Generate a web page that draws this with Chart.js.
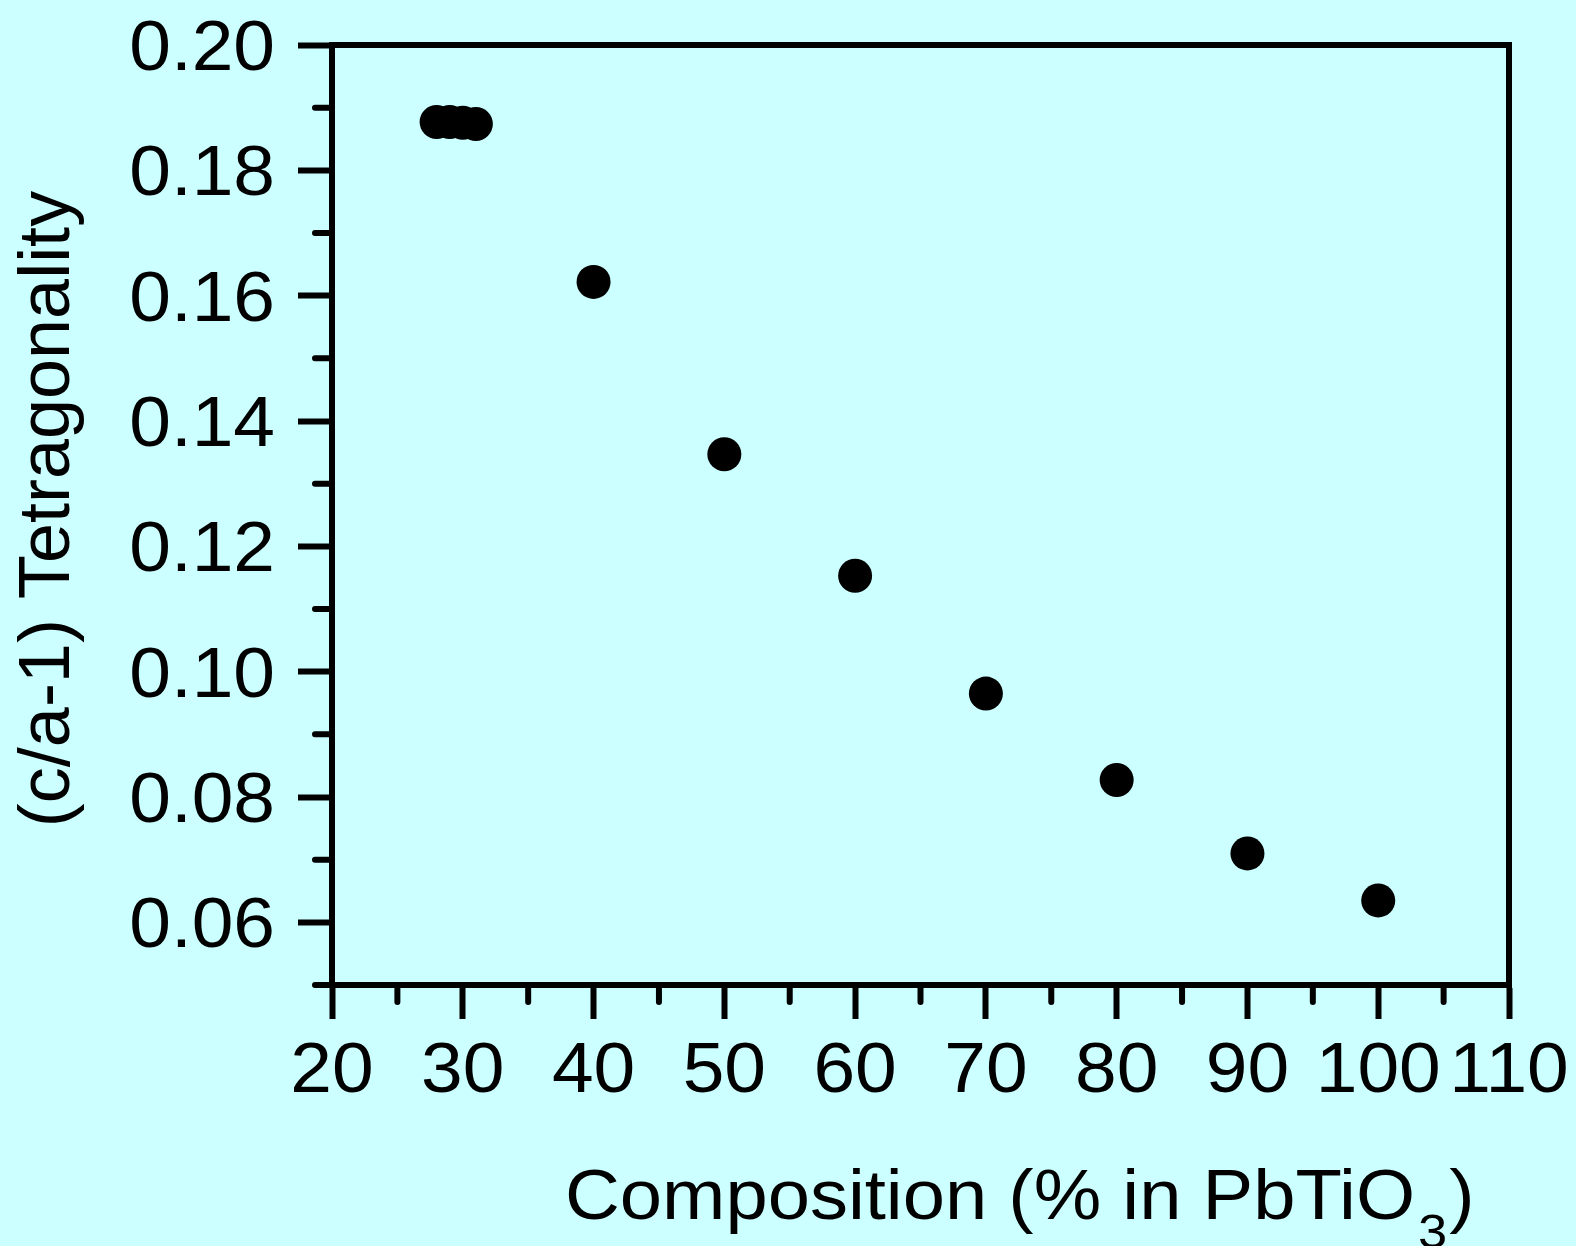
<!DOCTYPE html>
<html>
<head>
<meta charset="utf-8">
<style>
  html, body { margin: 0; padding: 0; background: #ccffff; }
  #wrap { width: 1576px; height: 1246px; position: relative; }
  canvas { display: block; }
</style>
<script src="https://cdn.jsdelivr.net/npm/chart.js@4/dist/chart.umd.min.js"></script>
</head>
<body>
<div id="wrap"><canvas id="c" width="1576" height="1246"></canvas></div>
<script>
// Composition (% PbTiO3) and measured tetragonality (c/a - 1)
const composition = [28, 29, 30, 31, 40, 50, 60, 70, 80, 90, 100];
const tetragonality = [0.1877, 0.1877, 0.1876, 0.1874, 0.1622, 0.1347, 0.1153, 0.0965, 0.0827, 0.0710, 0.0635];

// Axis ranges and tick values
const xRange = [20, 110];
const yRange = [0.05, 0.20];
const xMajorTicks = [20, 30, 40, 50, 60, 70, 80, 90, 100, 110];
const xMinorTicks = [25, 35, 45, 55, 65, 75, 85, 95, 105];
const yMajorTicks = [0.06, 0.08, 0.10, 0.12, 0.14, 0.16, 0.18, 0.20];
const yMinorTicks = [0.05, 0.07, 0.09, 0.11, 0.13, 0.15, 0.17, 0.19];
const xTickLabels = ['20', '30', '40', '50', '60', '70', '80', '90', '100', '110'];
const yTickLabels = ['0.06', '0.08', '0.10', '0.12', '0.14', '0.16', '0.18', '0.20'];

const xTitleMain = 'Composition (% in PbTiO';
const xTitleSub = '3';
const xTitleEnd = ')';
const yTitle = '(c/a-1) Tetragonality';

const FONT = '"Liberation Sans", Arial, sans-serif';
const LINE = 6;
const MAJOR = 34;
const MINOR = 17;
const STRETCH = 1.07;   // horizontal widening of the lettering

function stretchedText(ctx, text, x, y, align) {
  const w = ctx.measureText(text).width * STRETCH;
  let left = x;
  if (align === 'right') left = x - w;
  else if (align === 'center') left = x - w / 2;
  ctx.save();
  ctx.translate(left, y);
  ctx.scale(STRETCH, 1);
  ctx.textAlign = 'left';
  ctx.fillText(text, 0, 0);
  ctx.restore();
  return w;
}

// Frame, minor ticks, tick labels and axis titles
const framePlugin = {
  id: 'frame',
  beforeDraw(chart) {
    const ctx = chart.ctx;
    ctx.save();
    ctx.fillStyle = '#ccffff';
    ctx.fillRect(0, 0, chart.width, chart.height);
    ctx.restore();
  },
  afterDraw(chart) {
    const { ctx, chartArea: a, scales } = chart;
    ctx.save();
    ctx.strokeStyle = '#000';
    ctx.lineWidth = LINE;
    ctx.lineCap = 'round';
    // minor ticks
    ctx.beginPath();
    xMinorTicks.forEach(v => {
      const px = scales.x.getPixelForValue(v);
      ctx.moveTo(px, a.bottom);
      ctx.lineTo(px, a.bottom + MINOR);
    });
    yMinorTicks.forEach(v => {
      const py = scales.y.getPixelForValue(v);
      ctx.moveTo(a.left, py);
      ctx.lineTo(a.left - MINOR, py);
    });
    ctx.stroke();
    // top and right frame edges
    ctx.lineCap = 'square';
    ctx.beginPath();
    ctx.moveTo(a.left, a.top);
    ctx.lineTo(a.right, a.top);
    ctx.lineTo(a.right, a.bottom);
    ctx.stroke();

    ctx.fillStyle = '#000';
    ctx.textBaseline = 'alphabetic';

    // tick labels
    ctx.font = '70px ' + FONT;
    yMajorTicks.forEach((v, i) => {
      const py = scales.y.getPixelForValue(v);
      stretchedText(ctx, yTickLabels[i], a.left - MAJOR - 23, py + 25, 'right');
    });
    xMajorTicks.forEach((v, i) => {
      const px = scales.x.getPixelForValue(v);
      stretchedText(ctx, xTickLabels[i], px, 1092, 'center');
    });

    // x title with subscript
    let x = 565;
    const base = 1219;
    ctx.font = '71px ' + FONT;
    x += stretchedText(ctx, xTitleMain, x, base, 'left');
    ctx.font = '49px ' + FONT;
    x += stretchedText(ctx, xTitleSub, x + 3, base + 29, 'left') + 5;
    ctx.font = '71px ' + FONT;
    stretchedText(ctx, xTitleEnd, x, base, 'left');

    // y title
    ctx.translate(49, 509);
    ctx.rotate(-Math.PI / 2);
    ctx.textAlign = 'center';
    ctx.textBaseline = 'middle';
    ctx.font = '72px ' + FONT;
    ctx.fillText(yTitle, 0, 0);
    ctx.restore();
  }
};

new Chart(document.getElementById('c'), {
  type: 'scatter',
  data: {
    datasets: [{
      data: composition.map((c, i) => ({ x: c, y: tetragonality[i] })),
      backgroundColor: '#000',
      borderWidth: 0,
      pointRadius: 17,
      pointHoverRadius: 17
    }]
  },
  options: {
    responsive: false,
    animation: false,
    events: [],
    layout: { padding: { left: 0, top: 45, right: 67, bottom: 0 } },
    plugins: { legend: { display: false }, tooltip: { enabled: false } },
    scales: {
      x: {
        type: 'linear',
        min: xRange[0],
        max: xRange[1],
        afterBuildTicks: s => { s.ticks = xMajorTicks.map(v => ({ value: v })); },
        afterFit: s => {
          s.height = 1246 - 985;
          s.paddingLeft = 0; s.paddingRight = 0; s.paddingTop = 0; s.paddingBottom = 0;
        },
        grid: { drawOnChartArea: false, drawTicks: true, tickLength: MAJOR, tickWidth: LINE, tickColor: '#000' },
        border: { display: true, color: '#000', width: LINE },
        ticks: { display: false, autoSkip: false, maxRotation: 0 }
      },
      y: {
        type: 'linear',
        min: yRange[0],
        max: yRange[1],
        afterBuildTicks: s => { s.ticks = yMajorTicks.map(v => ({ value: v })); },
        afterFit: s => {
          s.width = 332;
          s.paddingLeft = 0; s.paddingRight = 0; s.paddingTop = 0; s.paddingBottom = 0;
        },
        grid: { drawOnChartArea: false, drawTicks: true, tickLength: MAJOR, tickWidth: LINE, tickColor: '#000' },
        border: { display: true, color: '#000', width: LINE },
        ticks: { display: false, autoSkip: false }
      }
    }
  },
  plugins: [framePlugin]
});
</script>
</body>
</html>
